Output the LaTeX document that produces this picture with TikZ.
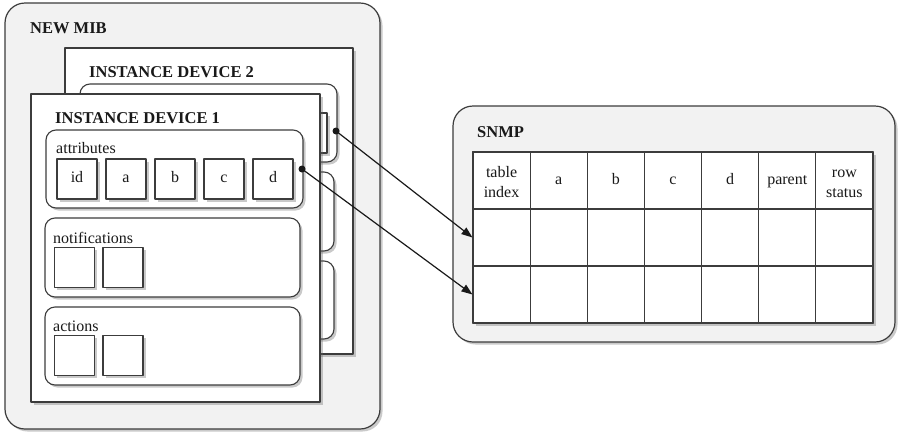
\documentclass[tikz,border=0pt]{standalone}
\usepackage{fontspec}
\setmainfont{Liberation Serif}
\usepackage{tikz}
\usetikzlibrary{arrows.meta,shadows}

\definecolor{panelgray}{HTML}{F2F2F2}
\definecolor{edgegray}{HTML}{3C3C3C}

\tikzset{
  shade/.style={drop shadow={shadow xshift=2.5pt,shadow yshift=-2.5pt,opacity=0.35,fill=black!60}},
  panel/.style={draw=edgegray,fill=panelgray,line width=1.2pt,rounded corners=20pt,shade},
  device/.style={draw=edgegray,fill=white,line width=1.1pt,shade},
  group/.style={draw=edgegray,fill=white,line width=1.1pt,rounded corners=10pt,shade},
  slot/.style={draw=edgegray,fill=white,line width=1.1pt,minimum size=40pt,inner sep=0pt,shade,font=\fontsize{16}{19}\selectfont},
  cell/.style={draw=edgegray,line width=1.1pt,minimum width=57.14pt,minimum height=57pt,inner sep=0pt,align=center,font=\fontsize{16}{20}\selectfont},
  title/.style={anchor=west,inner sep=0pt,font=\bfseries\fontsize{16.5}{19}\selectfont},
  tag/.style={anchor=west,inner sep=0pt,font=\fontsize{16}{19}\selectfont}
}

\begin{document}
\begin{tikzpicture}[line cap=round,line join=round,>={Triangle[length=11pt,width=8pt]},x=1pt,y=-1pt,color=black!90]
\useasboundingbox (0,0) rectangle (898,432);

% new mib
\path[panel] (5,3) rectangle (380,429);
\node[title] (mib) at (30,28) {NEW MIB};

% instance device 2 (behind)
\path[device] (65,48) rectangle (353,354);
\node[title] (dev2) at (89,72) {INSTANCE DEVICE 2};
\path[group] (80,84) rectangle (337,162);
\path[group] (79,172) rectangle (334,251);
\path[group] (79,261) rectangle (334,339);
\node[slot] (d2) at (307,133) {};
\coordinate (d2dot) at (336,131);

% instance device 1
\path[device] (31,94) rectangle (320,402);
\node[title] (dev1) at (55,118) {INSTANCE DEVICE 1};

\path[group] (46,130) rectangle (303,208);
\node[tag] (attr) at (56,148) {attributes};
\foreach \n [count=\i from 0] in {id,a,b,c,d}
  \node[slot] (att-\n) at (77+49*\i,179) {\strut\n};
\coordinate (d1dot) at (302,169);

\path[group] (45,218) rectangle (300,297);
\node[tag] (notif) at (53,238) {notifications};
\node[slot] (n1) at (74.5,267.5) {};
\node[slot] (n2) at (123,267.5) {};

\path[group] (45,307) rectangle (300,385);
\node[tag] (act) at (53,326) {actions};
\node[slot] (ac1) at (74.5,355.5) {};
\node[slot] (ac2) at (123,355.5) {};

% snmp
\path[panel] (453,106) rectangle (895,342);
\node[title] (snmp) at (477,132) {SNMP};
\path[draw=edgegray,fill=white,line width=1.1pt,shade] (473,152) rectangle (873,323);
\foreach \lbl [count=\i from 0] in {{table\\index},a,b,c,d,parent,{row\\status}} {
  \node[cell] (h\i) at (501.57+57.14*\i,180.5) {\strut\lbl};
  \node[cell] (ra\i) at (501.57+57.14*\i,237.5) {};
  \node[cell] (rb\i) at (501.57+57.14*\i,294.5) {};
}

% links
\fill (d2dot) circle (3.5pt);
\fill (d1dot) circle (3.5pt);
\draw[->,line width=1.2pt] (d2dot) -- (ra0.west);
\draw[->,line width=1.2pt] (d1dot) -- (rb0.west);
\end{tikzpicture}
\end{document}
